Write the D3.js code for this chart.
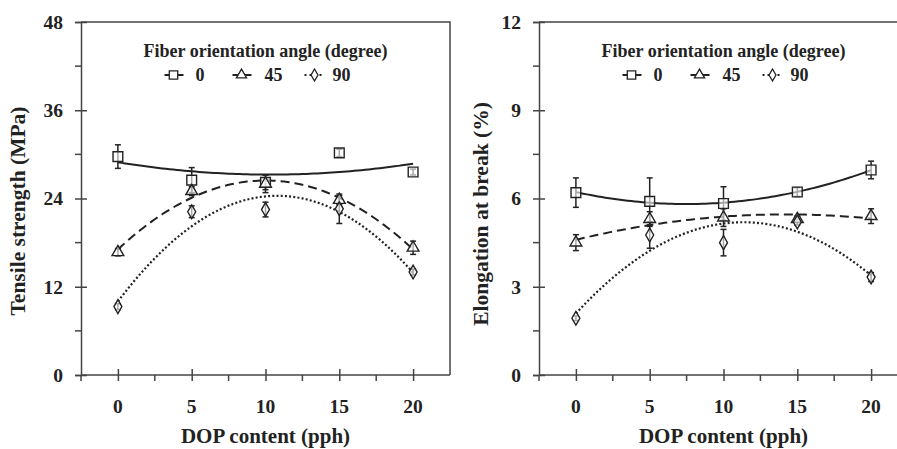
<!DOCTYPE html>
<html>
<head>
<meta charset="utf-8">
<script src="https://cdn.jsdelivr.net/npm/d3@7"></script>
<style>
  html, body { margin: 0; padding: 0; background: #fff; }
  svg { display: block; }
  text { font-family: "Liberation Serif", "Times New Roman", serif; font-weight: bold; fill: #222; }
</style>
</head>
<body>
<svg id="chart" width="897" height="449"></svg>
<script>
// DOP content (pph) on the x axis
const dop = [0, 5, 10, 15, 20];
const xTicks = [0, 5, 10, 15, 20];
const angles = ["0", "45", "90"];
const legendTitle = "Fiber orientation angle (degree)";
const xTitle = "DOP content (pph)";

// Tensile strength (MPa), mean and standard deviation per fiber angle
const tensile0 = [29.7, 26.5, 26.2, 30.2, 27.6];
const tensile45 = [16.7, 25.0, 26.0, 23.8, 17.3];
const tensile90 = [9.3, 22.2, 22.5, 22.6, 14.0];
const tensileErr0 = [1.6, 1.7, 1.0, 0.5, 0.4];
const tensileErr45 = [0.5, 0.6, 1.2, 0.6, 0.9];
const tensileErr90 = [0.4, 0.8, 1.0, 2.0, 0.4];
const tensileTicks = [0, 12, 24, 36, 48];

// Elongation at break (%), mean and standard deviation per fiber angle
const elong0 = [6.2, 5.9, 5.83, 6.22, 6.97];
const elong45 = [4.5, 5.3, 5.35, 5.3, 5.4];
const elong90 = [1.93, 4.76, 4.5, 5.2, 3.33];
const elongErr0 = [0.5, 0.8, 0.57, 0.15, 0.3];
const elongErr45 = [0.27, 0.25, 0.3, 0.1, 0.25];
const elongErr90 = [0.08, 0.45, 0.45, 0.1, 0.15];
const elongTicks = [0, 3, 6, 9, 12];

const ink = "#222";
const svg = d3.select("#chart");

// Least-squares quadratic through the measured points (trend line)
function quadFit(xs, ys) {
  let S = [0, 0, 0, 0, 0], T = [0, 0, 0];
  xs.forEach((x, i) => {
    for (let k = 0; k < 5; k++) S[k] += Math.pow(x, k);
    for (let k = 0; k < 3; k++) T[k] += Math.pow(x, k) * ys[i];
  });
  const A = [[S[0], S[1], S[2], T[0]], [S[1], S[2], S[3], T[1]], [S[2], S[3], S[4], T[2]]];
  for (let c = 0; c < 3; c++) {
    for (let r = c + 1; r < 3; r++) {
      const f = A[r][c] / A[c][c];
      for (let k = c; k < 4; k++) A[r][k] -= f * A[c][k];
    }
  }
  const b = [0, 0, 0];
  for (let r = 2; r >= 0; r--) {
    let s = A[r][3];
    for (let k = r + 1; k < 3; k++) s -= A[r][k] * b[k];
    b[r] = s / A[r][r];
  }
  return x => b[0] + b[1] * x + b[2] * x * x;
}

const styles = [
  { symbol: d3.symbolSquare, size: 95, dash: null, width: 2 },
  { symbol: d3.symbolTriangle, size: 60, dash: "9,5", width: 2 },
  { symbol: d3.symbolDiamond, size: 55, dash: "2,2.2", width: 2.2 }
];

function drawPanel(cfg) {
  const x = d3.scaleLinear().domain([-2.5, 22.5]).range([cfg.left, cfg.left + 369]);
  const y = d3.scaleLinear().domain([0, cfg.yMax]).range([375, 22]);
  const g = svg.append("g");

  // frame (top and right edges)
  g.append("path")
    .attr("d", `M${x(-2.5)},${y(cfg.yMax)}H${x(22.5)}V${y(0)}`)
    .attr("fill", "none").attr("stroke", "#444").attr("stroke-width", 1.5);

  // y axis: major ticks cross the line, minor ticks outside
  const step = cfg.yTicks[1] - cfg.yTicks[0];
  const yMinor = cfg.yTicks.slice(0, -1).map(v => v + step / 2);
  g.append("g").attr("transform", `translate(${x(-2.5)},0)`)
    .call(d3.axisLeft(y).tickValues(cfg.yTicks).tickSize(6).tickFormat(""))
    .call(a => a.selectAll(".tick line").attr("x2", -6).attr("x1", 6))
    .call(a => a.append("g").selectAll("line").data(yMinor).join("line")
      .attr("x1", -6).attr("x2", 0).attr("y1", d => y(d)).attr("y2", d => y(d)))
    .call(a => a.selectAll("path, line").attr("stroke", "#444").attr("stroke-width", 1.5));
  g.selectAll(".ylab").data(cfg.yTicks).join("text")
    .attr("x", x(-2.5) - 18).attr("y", d => y(d)).attr("dy", "0.35em")
    .attr("text-anchor", "end").attr("font-size", 19.5).text(d => d);

  // x axis
  const xMinor = [-2.5, 2.5, 7.5, 12.5, 17.5];
  g.append("g").attr("transform", `translate(0,${y(0)})`)
    .call(d3.axisBottom(x).tickValues(xTicks).tickSize(6).tickFormat(""))
    .call(a => a.selectAll(".tick line").attr("y1", -6).attr("y2", 6))
    .call(a => a.append("g").selectAll("line").data(xMinor).join("line")
      .attr("x1", d => x(d)).attr("x2", d => x(d)).attr("y1", 0).attr("y2", 6))
    .call(a => a.select(".domain").attr("d", `M${x(-2.5)},0H${x(22.5)}`))
    .call(a => a.selectAll("path, line").attr("stroke", "#444").attr("stroke-width", 1.5));
  g.selectAll(".xlab").data(xTicks).join("text")
    .attr("x", d => x(d)).attr("y", 413)
    .attr("text-anchor", "middle").attr("font-size", 19.5).text(d => d);

  // axis titles
  g.append("text").attr("x", x(10)).attr("y", 443)
    .attr("text-anchor", "middle").attr("font-size", 21).text(xTitle);
  g.append("text")
    .attr("transform", `translate(${cfg.titleX},${cfg.titleY}) rotate(-90)`)
    .attr("text-anchor", "middle").attr("font-size", 21.5).text(cfg.yTitle);

  // trend curves
  const xs = d3.range(0, 20.001, 0.25);
  cfg.series.forEach((s, i) => {
    const f = quadFit(dop, s.values);
    g.append("path")
      .datum(xs)
      .attr("d", d3.line().x(d => x(d)).y(d => y(f(d))))
      .attr("fill", "none").attr("stroke", ink)
      .attr("stroke-width", styles[i].width)
      .attr("stroke-dasharray", styles[i].dash);
  });

  // error bars and markers
  cfg.series.forEach((s, i) => {
    const pts = dop.map((d, j) => ({ x: d, v: s.values[j], e: s.err[j] }));
    const eb = g.append("g").attr("stroke", ink).attr("stroke-width", 1.5);
    pts.forEach(p => {
      eb.append("line").attr("x1", x(p.x)).attr("x2", x(p.x)).attr("y1", y(p.v - p.e)).attr("y2", y(p.v + p.e));
      [p.v - p.e, p.v + p.e].forEach(v => eb.append("line")
        .attr("x1", x(p.x) - 3).attr("x2", x(p.x) + 3).attr("y1", y(v)).attr("y2", y(v)));
    });
  });
  cfg.series.forEach((s, i) => {
    g.selectAll(null).data(dop.map((d, j) => [d, s.values[j]])).join("path")
      .attr("transform", d => `translate(${x(d[0])},${y(d[1])})`)
      .attr("d", d3.symbol(styles[i].symbol, styles[i].size))
      .attr("fill", "#fff").attr("fill-opacity", 0.6)
      .attr("stroke", ink).attr("stroke-width", 1.4);
  });

  // legend
  const cx = x(10);
  g.append("text").attr("x", cx).attr("y", 57).attr("text-anchor", "middle")
    .attr("font-size", 18).text(legendTitle);
  const items = [
    { lx: cx - 101, mx: cx - 92, tx: cx - 70 },
    { lx: cx - 33, mx: cx - 24, tx: cx - 1 },
    { lx: cx + 39, mx: cx + 49, tx: cx + 67 }
  ];
  items.forEach((it, i) => {
    const lg = g.append("g");
    lg.append("line").attr("x1", it.lx).attr("x2", it.lx + 19).attr("y1", 75).attr("y2", 75)
      .attr("stroke", ink).attr("stroke-width", 2).attr("stroke-dasharray", i === 2 ? "2,3" : null);
    lg.append("path").attr("transform", `translate(${it.mx},75)`)
      .attr("d", d3.symbol(styles[i].symbol, styles[i].size * 0.75))
      .attr("fill", "#fff").attr("stroke", ink).attr("stroke-width", 1.3);
    lg.append("text").attr("x", it.tx).attr("y", 75).attr("dy", "0.35em")
      .attr("font-size", 18).text(angles[i]);
  });
}

drawPanel({
  left: 81, yMax: 48, yTicks: tensileTicks,
  yTitle: "Tensile strength (MPa)", titleX: 25, titleY: 211,
  series: [
    { values: tensile0, err: tensileErr0 },
    { values: tensile45, err: tensileErr45 },
    { values: tensile90, err: tensileErr90 }
  ]
});
drawPanel({
  left: 539, yMax: 12, yTicks: elongTicks,
  yTitle: "Elongation at break (%)", titleX: 488, titleY: 214,
  series: [
    { values: elong0, err: elongErr0 },
    { values: elong45, err: elongErr45 },
    { values: elong90, err: elongErr90 }
  ]
});
</script>
</body>
</html>
